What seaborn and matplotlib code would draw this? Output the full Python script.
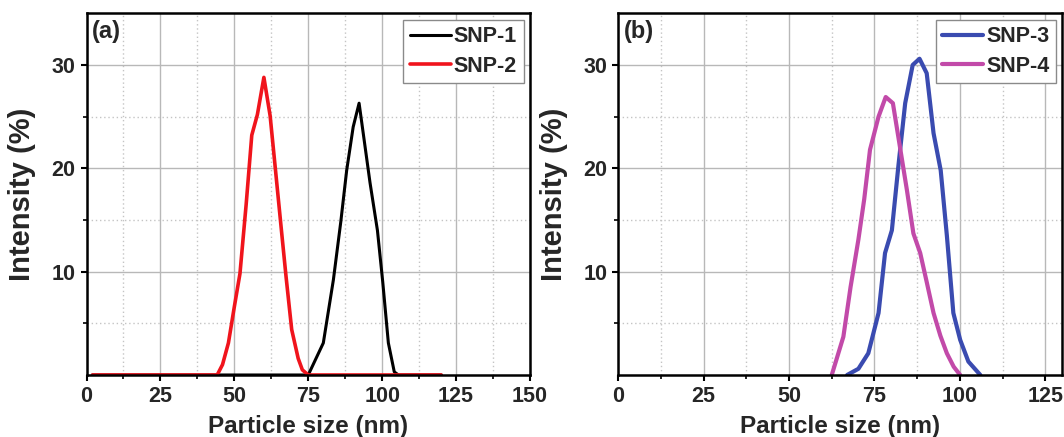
import numpy as np
import pandas as pd
import matplotlib
matplotlib.use("Agg")
import matplotlib.pyplot as plt
from matplotlib.ticker import MultipleLocator, FixedLocator
import seaborn as sns

# DLS size distributions (particle size in nm, intensity in %)
snp1_size = [2, 75, 80.1, 83.5, 86.0, 88.0, 90.2, 92.2, 95.9, 98.4, 100.2, 102.1, 104.1, 105.5, 120]
snp1_int = [0, 0, 3.1, 9.2, 14.8, 19.8, 24.0, 26.3, 18.6, 14.0, 9.0, 3.1, 0.3, 0, 0]

snp2_size = [2, 44.2, 46.0, 48.0, 50.0, 51.9, 54.0, 55.9, 57.8, 60.0, 62.1, 64.0, 66.0, 67.5,
             69.4, 71.6, 73.0, 75.0, 120]
snp2_int = [0, 0, 1.0, 3.1, 6.6, 9.8, 16.5, 23.2, 25.2, 28.8, 25.1, 19.6, 13.8, 9.5,
            4.4, 1.6, 0.5, 0, 0]

snp3_size = [67.0, 70.3, 73.2, 76.2, 78.1, 80.1, 82.0, 84.0, 86.2, 88.2, 90.3, 92.3, 94.4,
             96.2, 98.1, 100.1, 102.5, 106.0]
snp3_int = [0, 0.6, 2.1, 6.0, 11.8, 14.0, 20.2, 26.3, 30.0, 30.6, 29.2, 23.4, 19.8,
            13.5, 6.0, 3.4, 1.3, 0]

snp4_size = [62.5, 65.9, 68.0, 70.3, 72.0, 73.7, 76.2, 78.3, 80.4, 82.5, 84.5, 86.4, 88.4,
             90.3, 92.3, 94.3, 96.2, 98.2, 100.1]
snp4_int = [0, 3.7, 8.5, 13.1, 17.0, 21.8, 25.0, 26.9, 26.3, 22.0, 17.9, 13.7, 11.8,
            9.0, 6.0, 3.8, 2.1, 0.8, 0]

x_ticks_a = [0, 25, 50, 75, 100, 125, 150]
x_ticks_b = [0, 25, 50, 75, 100, 125]
y_ticks = [10, 20, 30]

colors = {"SNP-1": "#000000", "SNP-2": "#f0141c", "SNP-3": "#3a4bb0", "SNP-4": "#c24aa9"}


def frame(names, sizes, values):
    parts = [pd.DataFrame({"size": s, "intensity": v, "sample": n})
             for n, s, v in zip(names, sizes, values)]
    return pd.concat(parts, ignore_index=True)


df_a = frame(["SNP-1", "SNP-2"], [snp1_size, snp2_size], [snp1_int, snp2_int])
df_b = frame(["SNP-3", "SNP-4"], [snp3_size, snp4_size], [snp3_int, snp4_int])

sns.set_theme(style="ticks")
plt.rcParams["font.family"] = ["Liberation Sans", "DejaVu Sans"]
plt.rcParams["font.weight"] = "bold"

fig = plt.figure(figsize=(10.64, 4.37), dpi=100)
ax_a = fig.add_axes([0.0813, 0.1419, 0.4168, 0.8277])
ax_b = fig.add_axes([0.5811, 0.1419, 0.4173, 0.8277])

panels = [
    (ax_a, df_a, ["SNP-1", "SNP-2"], (0, 150), x_ticks_a, "(a)", [2.2, 2.6]),
    (ax_b, df_b, ["SNP-3", "SNP-4"], (0, 130), x_ticks_b, "(b)", [3.0, 3.0]),
]

for ax, df, order, xlim, xt, tag, widths in panels:
    sns.lineplot(data=df, x="size", y="intensity", hue="sample", hue_order=order,
                 palette=colors, estimator=None, sort=False, ax=ax, legend=True)
    for line, w in zip(ax.get_lines(), widths):
        line.set_linewidth(w)
    ax.set_xlim(*xlim)
    ax.set_ylim(0, 35)
    ax.xaxis.set_major_locator(FixedLocator(xt))
    ax.xaxis.set_minor_locator(MultipleLocator(12.5))
    ax.yaxis.set_major_locator(FixedLocator(y_ticks))
    ax.yaxis.set_minor_locator(FixedLocator([5, 15, 25]))
    ax.grid(True, which="major", color="#b8b8b8", linewidth=1.0, linestyle="-")
    ax.grid(True, which="minor", color="#c4c4c4", linewidth=1.0, linestyle=(0, (1, 2)))
    ax.set_axisbelow(True)
    for sp in ax.spines.values():
        sp.set_visible(True)
        sp.set_linewidth(1.8)
        sp.set_color("black")
    ax.tick_params(axis="both", which="major", direction="out", length=4.5, width=1.5,
                   labelsize=15.5, pad=3.5, color="black")
    ax.tick_params(axis="both", which="minor", direction="out", length=3, width=1.2,
                   color="black")
    for lab in ax.get_xticklabels() + ax.get_yticklabels():
        lab.set_fontweight("bold")
    ax.set_xlabel("Particle size (nm)", fontsize=17.5, fontweight="bold", labelpad=6)
    ax.set_ylabel("Intensity (%)", fontsize=21, fontweight="bold", labelpad=11)
    ax.text(0.012, 0.982, tag, transform=ax.transAxes, ha="left", va="top",
            fontsize=17, fontweight="bold")
    leg = ax.legend(loc="upper right", fontsize=15.5, frameon=True, fancybox=False,
                    edgecolor="#8a8a8a", framealpha=1, borderpad=0.3, labelspacing=0.4,
                    handlelength=1.9, handletextpad=0.15, borderaxespad=0.3)
    leg.get_frame().set_linewidth(1.0)
    for h, w in zip(leg.get_lines(), widths):
        h.set_linewidth(w)
    for t in leg.get_texts():
        t.set_fontweight("bold")

fig.savefig("out.png", dpi=100)
